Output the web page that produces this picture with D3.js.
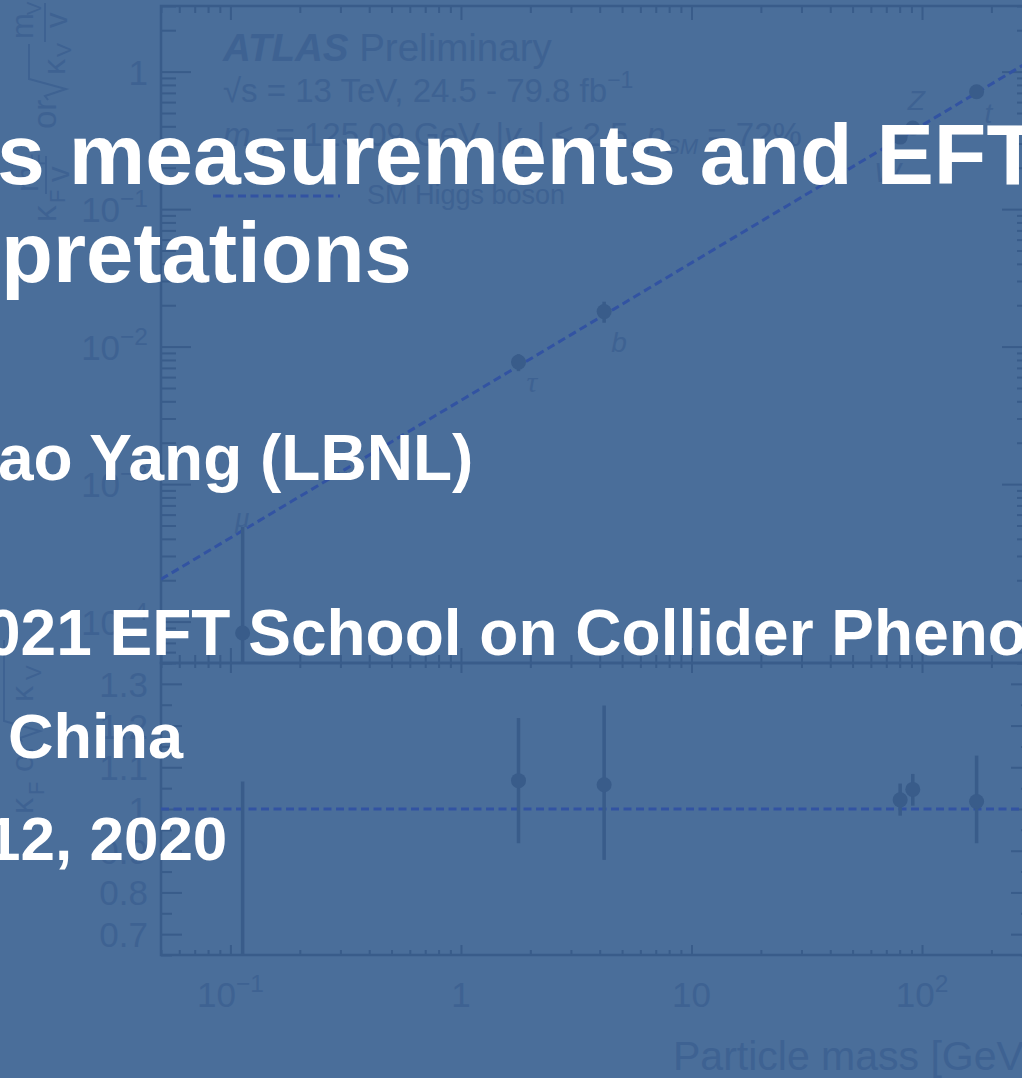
<!DOCTYPE html>
<html>
<head>
<meta charset="utf-8">
<script src="https://cdn.jsdelivr.net/npm/d3@7"></script>
<style>
  html, body { margin: 0; padding: 0; background: #4a6e9a; overflow: hidden; }
  svg { display: block; }
</style>
</head>
<body>
<svg id="c" width="1022" height="1078"></svg>
<script>
// ---- data: coupling-strength fit results vs particle mass ----
const particles = ["μ", "τ", "b", "W", "Z", "t"];
const massGeV   = [0.113, 1.777, 4.18, 80.4, 91.2, 172.5];
const kappa     = [0.18, 1.068, 1.058, 1.022, 1.047, 1.018];
const kappaLo   = [0.0, 0.918, 0.878, 0.984, 1.008, 0.918];
const kappaHi   = [1.066, 1.218, 1.248, 1.061, 1.084, 1.128];
const vev = 246;   // GeV

const xMajorTicks = [0.1, 1, 10, 100];
const xTickBase   = ["10", "1", "10", "10"];
const xTickExp    = ["−1", "", "", "2"];
const yTopMajorTicks = [1e-4, 1e-3, 1e-2, 1e-1, 1];
const yTopTickBase   = ["10", "10", "10", "10", "1"];
const yTopTickExp    = ["−4", "−3", "−2", "−1", ""];
const yRatioTicks = [0.7, 0.8, 0.9, 1.0, 1.1, 1.2, 1.3];
const yRatioTickLabels = ["0.7", "0.8", "0.9", "1", "1.1", "1.2", "1.3"];
const yRatioMinor = [0.65, 0.75, 0.85, 0.95, 1.05, 1.15, 1.25, 1.35];

const titleLines = [
  "s measurements and EFT",
  "pretations",
  "ao Yang (LBNL)",
  "021 EFT School on Collider Pheno",
  "China",
  "12, 2020"
];

// ---- colours ----
const BG = "#4a6e9a";
const INK = "#395c8a";      // axes and markers
const TXT = "#3e6292";      // chart text
const SMLINE = "#3253a2";   // SM expectation

const svg = d3.select("#c");
svg.append("rect").attr("width", 1022).attr("height", 1078).attr("fill", BG);

// ---- geometry ----
const L = 161, R = 1032, T1 = 6, B1 = 663, T2 = 663, B2 = 955;
const FONT = "'Liberation Sans', Arial, Helvetica, sans-serif";

const x = d3.scaleLog().domain([0.05, 300]).range([L, R]);
const yTop = d3.scaleLog().domain([5e-5, 3]).range([B1, T1]);
const yRat = d3.scaleLinear().domain([0.65, 1.35]).range([B2, T2]);

function logMinor(lo, hi) {
  const out = [];
  for (let e = -6; e <= 4; e++) {
    for (let k = 2; k <= 9; k++) {
      const v = k * Math.pow(10, e);
      if (v >= lo && v <= hi) out.push(v);
    }
  }
  return out;
}
const xMinor = logMinor(0.05, 300);
const yTopMinor = logMinor(5e-5, 3);

function tickGroup(axisFn, scale, values, size, tx, ty) {
  const g = svg.append("g")
    .attr("transform", `translate(${tx},${ty})`)
    .call(axisFn(scale).tickValues(values).tickSize(size).tickFormat(""));
  g.select(".domain").remove();
  g.selectAll("line").attr("stroke", INK).attr("stroke-width", 2);
  return g;
}

// upper panel ticks
tickGroup(d3.axisTop, x, xMajorTicks, 15, 0, B1);
tickGroup(d3.axisTop, x, xMinor, 8, 0, B1);
tickGroup(d3.axisBottom, x, xMajorTicks, 14, 0, T1);
tickGroup(d3.axisBottom, x, xMinor, 7, 0, T1);
tickGroup(d3.axisRight, yTop, yTopMajorTicks, 30, L, 0);
tickGroup(d3.axisRight, yTop, yTopMinor, 15, L, 0);
tickGroup(d3.axisLeft, yTop, yTopMajorTicks, 30, R, 0);
tickGroup(d3.axisLeft, yTop, yTopMinor, 15, R, 0);
// ratio panel ticks
tickGroup(d3.axisBottom, x, xMajorTicks, 10, 0, T2);
tickGroup(d3.axisBottom, x, xMinor, 5, 0, T2);
tickGroup(d3.axisTop, x, xMajorTicks, 10, 0, B2);
tickGroup(d3.axisTop, x, xMinor, 5, 0, B2);
tickGroup(d3.axisRight, yRat, yRatioTicks, 21, L, 0);
tickGroup(d3.axisRight, yRat, yRatioMinor, 11, L, 0);
tickGroup(d3.axisLeft, yRat, yRatioTicks, 21, R, 0);
tickGroup(d3.axisLeft, yRat, yRatioMinor, 11, R, 0);

// frames
svg.append("rect").attr("x", L).attr("y", T1).attr("width", R - L).attr("height", B1 - T1)
  .attr("fill", "none").attr("stroke", INK).attr("stroke-width", 2.5);
svg.append("rect").attr("x", L).attr("y", T2).attr("width", R - L).attr("height", B2 - T2)
  .attr("fill", "none").attr("stroke", INK).attr("stroke-width", 2.5);

// clip paths
const defs = svg.append("defs");
defs.append("clipPath").attr("id", "clipTop").append("rect")
  .attr("x", L).attr("y", T1).attr("width", R - L).attr("height", B1 - T1);
defs.append("clipPath").attr("id", "clipRat").append("rect")
  .attr("x", L).attr("y", T2).attr("width", R - L).attr("height", B2 - T2);

// ---- tick labels ----
function supLabel(parent, base, exp, px, py, anchor, size) {
  const t = parent.append("text").attr("x", px).attr("y", py)
    .attr("text-anchor", anchor).attr("font-family", FONT)
    .attr("font-size", size).attr("fill", TXT);
  t.append("tspan").text(base);
  if (exp) t.append("tspan").attr("font-size", size * 0.7).attr("dy", -size * 0.42).text(exp);
  return t;
}
const xLabelY = 1007;
xMajorTicks.forEach((v, i) => {
  supLabel(svg, xTickBase[i], xTickExp[i], x(v), xLabelY, "middle", 35);
});
yTopMajorTicks.forEach((v, i) => {
  supLabel(svg, yTopTickBase[i], yTopTickExp[i], 148, yTop(v) + 13, "end", 35);
});
yRatioTicks.forEach((v, i) => {
  svg.append("text").attr("x", 148).attr("y", yRat(v) + 13).attr("text-anchor", "end")
    .attr("font-family", FONT).attr("font-size", 35).attr("fill", TXT)
    .text(yRatioTickLabels[i]);
});

// x-axis title
svg.append("text").attr("x", 673).attr("y", 1070).attr("font-family", FONT)
  .attr("font-size", 41).attr("fill", TXT).text("Particle mass [GeV]");

// ---- rotated y titles ----
const rot = svg.append("g").attr("transform", "rotate(-90)")
  .attr("font-family", FONT).attr("fill", TXT);
function rtext(str, pageY, pageX, size) {
  return rot.append("text").attr("x", -pageY).attr("y", pageX).attr("font-size", size).text(str);
}
// upper: κF·mF/v or √κV·mV/v
rtext("κ", 222, 56, 33);
rtext("F", 203, 65, 22);
rtext("m", 192, 38, 31);
rtext("F", 166, 45, 20);
rtext("v", 182, 69, 31);
rot.append("line").attr("x1", -194).attr("x2", -156).attr("y1", 46).attr("y2", 46)
  .attr("stroke", TXT).attr("stroke-width", 2);
rtext("or", 129, 56, 33);
rot.append("path").attr("d", "M-100,48 L-96,45 L-89,66 L-79,29 L-44,29")
  .attr("fill", "none").attr("stroke", TXT).attr("stroke-width", 2);
rtext("κ", 75, 65, 32);
rtext("V", 57, 71, 21);
rtext("m", 39, 33, 31);
rtext("V", 15, 41, 20);
rtext("v", 28, 67, 31);
rot.append("line").attr("x1", -42).attr("x2", -3).attr("y1", 45).attr("y2", 45)
  .attr("stroke", TXT).attr("stroke-width", 2);
// lower: κF or √κV
rtext("κ", 814, 33, 32);
rtext("F", 795, 44, 22);
rtext("or", 772, 33, 32);
rot.append("path").attr("d", "M-742,22 L-738,20 L-731,40 L-721,4 L-640,4")
  .attr("fill", "none").attr("stroke", TXT).attr("stroke-width", 2);
rtext("κ", 702, 33, 32);
rtext("V", 680, 41, 22);

// ---- upper panel: SM line and measurements ----
const upper = svg.append("g").attr("clip-path", "url(#clipTop)");
const smMass = d3.range(0, 101).map(i => 0.05 * Math.pow(300 / 0.05, i / 100));
upper.append("path")
  .attr("d", d3.line().x(m => x(m)).y(m => yTop(m / vev))(smMass))
  .attr("fill", "none").attr("stroke", SMLINE).attr("stroke-width", 3)
  .attr("stroke-dasharray", "8,4.5");

const rows = particles.map((p, i) => ({
  p, m: massGeV[i], k: kappa[i], lo: kappaLo[i], hi: kappaHi[i]
}));
upper.selectAll("line.err").data(rows).join("line").attr("class", "err")
  .attr("x1", d => x(d.m)).attr("x2", d => x(d.m))
  .attr("y1", d => yTop(Math.max(d.lo, 1e-4) * d.m / vev))
  .attr("y2", d => yTop(d.hi * d.m / vev))
  .attr("stroke", INK).attr("stroke-width", 3.5);
upper.selectAll("circle").data(rows).join("circle")
  .attr("cx", d => x(d.m)).attr("cy", d => yTop(d.k * d.m / vev)).attr("r", 7.5)
  .attr("fill", INK);

// particle labels
const lab = [
  { dx: -8, dy: -106, serif: true },
  { dx: 8, dy: 30, serif: true },
  { dx: 7, dy: 40 },
  { dx: -26, dy: 45 },
  { dx: -5, dy: -18 },
  { dx: 8, dy: 31 }
];
rows.forEach((d, i) => {
  svg.append("text")
    .attr("x", x(d.m) + lab[i].dx)
    .attr("y", yTop(d.k * d.m / vev) + lab[i].dy)
    .attr("font-family", lab[i].serif ? "'Liberation Serif', 'DejaVu Serif', serif" : FONT)
    .attr("font-style", "italic").attr("font-size", lab[i].serif ? 30 : 28)
    .attr("fill", TXT).text(d.p);
});

// ---- ratio panel ----
const rat = svg.append("g").attr("clip-path", "url(#clipRat)");
rat.append("line").attr("x1", L).attr("x2", R).attr("y1", yRat(1)).attr("y2", yRat(1))
  .attr("stroke", SMLINE).attr("stroke-width", 3).attr("stroke-dasharray", "8,4.5");
rat.selectAll("line.err").data(rows).join("line").attr("class", "err")
  .attr("x1", d => x(d.m)).attr("x2", d => x(d.m))
  .attr("y1", d => yRat(d.lo)).attr("y2", d => yRat(d.hi))
  .attr("stroke", INK).attr("stroke-width", 3.5);
rat.selectAll("circle").data(rows).join("circle")
  .attr("cx", d => x(d.m)).attr("cy", d => yRat(d.k)).attr("r", 7.5)
  .attr("fill", INK);

// ---- legend block ----
const lg = svg.append("g").attr("font-family", FONT).attr("fill", TXT);
const atl = lg.append("text").attr("x", 223).attr("y", 61).attr("font-size", 38.5);
atl.append("tspan").attr("font-weight", "bold").attr("font-style", "italic").text("ATLAS");
atl.append("tspan").text(" Preliminary");
const l2 = lg.append("text").attr("x", 223).attr("y", 102).attr("font-size", 33);
l2.append("tspan").text("√s = 13 TeV, 24.5 - 79.8 fb");
l2.append("tspan").attr("font-size", 23).attr("dy", -14).text("−1");
const l3 = lg.append("text").attr("x", 223).attr("y", 146).attr("font-size", 33);
l3.append("tspan").attr("font-style", "italic").text("m");
l3.append("tspan").attr("font-size", 22).attr("dy", 8).attr("font-style", "italic").text("H");
l3.append("tspan").attr("dy", -8).text(" = 125.09 GeV, |");
l3.append("tspan").attr("font-style", "italic").text("y");
l3.append("tspan").attr("font-size", 22).attr("dy", 8).attr("font-style", "italic").text("H");
l3.append("tspan").attr("dy", -8).text("| < 2.5, ");
l3.append("tspan").attr("font-style", "italic").text("p");
l3.append("tspan").attr("font-size", 22).attr("dy", 8).attr("font-style", "italic").text("SM");
l3.append("tspan").attr("dy", -8).text(" = 72%");
lg.append("line").attr("x1", 213).attr("x2", 340).attr("y1", 196).attr("y2", 196)
  .attr("stroke", SMLINE).attr("stroke-width", 3).attr("stroke-dasharray", "8,4.5");
lg.append("text").attr("x", 367).attr("y", 204).attr("font-size", 27).text("SM Higgs boson");

// ---- slide title text ----
const titleSpec = [
  { x: -3, y: 184, s: 86 },
  { x: 1, y: 282, s: 85 },
  { x: -2, y: 480, s: 64 },
  { x: -15, y: 655, s: 64 },
  { x: 8, y: 758, s: 63 },
  { x: -14, y: 860, s: 62 }
];
titleLines.forEach((t, i) => {
  svg.append("text").attr("x", titleSpec[i].x).attr("y", titleSpec[i].y)
    .attr("font-family", FONT).attr("font-weight", "bold")
    .attr("font-size", titleSpec[i].s).attr("fill", "#ffffff").text(t);
});
</script>
</body>
</html>
